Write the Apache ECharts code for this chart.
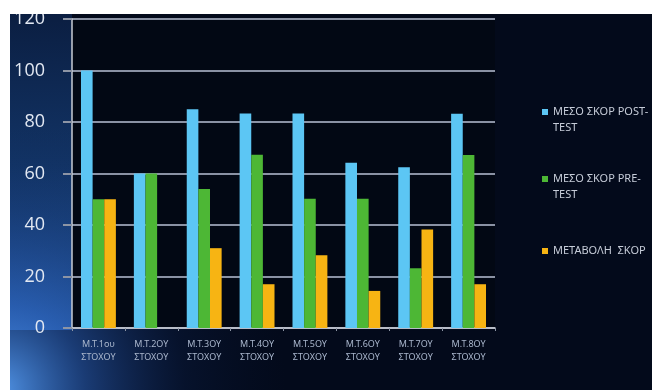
<!DOCTYPE html>
<html>
<head>
<meta charset="utf-8">
<script src="https://cdn.jsdelivr.net/npm/echarts@6/dist/echarts.min.js"></script>
<style>html,body{margin:0;padding:0;background:#fff}#c{width:652px;height:390px}</style>
</head>
<body>
<div id="c"></div>
<script>
const categories = ['Μ.Τ.1ου\nΣΤΟΧΟΥ','Μ.Τ.2ΟΥ\nΣΤΟΧΟΥ','Μ.Τ.3ΟΥ\nΣΤΟΧΟΥ','Μ.Τ.4ΟΥ\nΣΤΟΧΟΥ','Μ.Τ.5ΟΥ\nΣΤΟΧΟΥ','Μ.Τ.6ΟΥ\nΣΤΟΧΟΥ','Μ.Τ.7ΟΥ\nΣΤΟΧΟΥ','Μ.Τ.8ΟΥ\nΣΤΟΧΟΥ'];
const seriesNames = ['ΜΕΣΟ ΣΚΟΡ POST-TEST','ΜΕΣΟ ΣΚΟΡ PRE-TEST','ΜΕΤΑΒΟΛΗ ΣΚΟΡ'];
const postTest = [100, 60, 85, 83.3, 83.3, 64.2, 62.4, 83.2];
const preTest = [50, 60, 54, 67.3, 50.2, 50.2, 23.2, 67.2];
const change = [50, 0, 31, 17, 28.3, 14.4, 38.3, 17];
const yTicks = [0, 20, 40, 60, 80, 100, 120];

const colors = ['#5cc6f4', '#4db735', '#f7b413'];
const chart = echarts.init(document.getElementById('c'));
const legendTops = [83, 150, 238];
const legendLabels = ['\nΜΕΣΟ ΣΚΟΡ POST-\nTEST', '\nΜΕΣΟ ΣΚΟΡ PRE-\nTEST', 'ΜΕΤΑΒΟΛΗ  ΣΚΟΡ'];
const option = {
  backgroundColor: '#030a1b',
  animation: false,
  graphic: [
    {type:'rect', z:-10, silent:true, shape:{x:0,y:0,width:72,height:330},
     style:{fill:{type:'linear',x:0,y:0,x2:0,y2:1,colorStops:[{offset:0,color:'#0a1c3e'},{offset:0.5,color:'#123466'},{offset:1,color:'#2558a2'}]}}},
    {type:'rect', z:-9, silent:true, shape:{x:0,y:130,width:520,height:260},
     style:{fill:{type:'radial',x:0,y:1,r:1.1,colorStops:[{offset:0,color:'rgba(85,155,240,0.95)'},{offset:0.3,color:'rgba(45,100,190,0.55)'},{offset:0.65,color:'rgba(20,50,110,0.2)'},{offset:1,color:'rgba(10,30,70,0)'}]}}},
    {type:'rect', z:100, silent:true, shape:{x:0,y:0,width:652,height:14}, style:{fill:'#ffffff'}},
    {type:'rect', z:100, silent:true, shape:{x:0,y:0,width:10,height:390}, style:{fill:'#ffffff'}}
  ],
  grid: {left:72, right:157, top:19, bottom:62, containLabel:false, show:true, backgroundColor:'#020814', borderWidth:0},
  legend: seriesNames.map((n, i) => ({
    orient:'vertical', left:537, top:legendTops[i], itemWidth:6, itemHeight:6,
    icon:'rect', data:[n],
    formatter: () => legendLabels[i],
    textStyle:{color:'#c6ccd8', fontSize:11, lineHeight:16, fontFamily:'Noto Sans'}
  })),
  xAxis: {
    type:'category', data:categories,
    axisLine:{lineStyle:{color:'#c8ccd4', width:1.5}},
    axisTick:{show:true, length:3, lineStyle:{color:'#8d95a5'}},
    axisLabel:{color:'#a9b6cc', fontSize:9, lineHeight:13, margin:10, fontFamily:'Noto Sans'}
  },
  yAxis: {
    type:'value', min:0, max:120, interval:20,
    axisLine:{show:true, lineStyle:{color:'#c8ccd4', width:1.5}},
    axisTick:{show:true, length:9, lineStyle:{color:'#8d95a5', width:2}},
    splitLine:{lineStyle:{color:'#8a92a4', width:2}},
    axisLabel:{color:'#e2e8f2', fontSize:18, margin:27, fontFamily:'Open Sans',
      formatter: v => yTicks.includes(v) ? String(v) : ''}
  },
  series: [
    {name:seriesNames[0], type:'bar', data:postTest, itemStyle:{color:colors[0]}, barGap:'0%', barCategoryGap:'34%'},
    {name:seriesNames[1], type:'bar', data:preTest, itemStyle:{color:colors[1]}, barGap:'0%', barCategoryGap:'34%'},
    {name:seriesNames[2], type:'bar', data:change, itemStyle:{color:colors[2]}, barGap:'0%', barCategoryGap:'34%'}
  ]
};
chart.setOption(option);
</script>
</body>
</html>
